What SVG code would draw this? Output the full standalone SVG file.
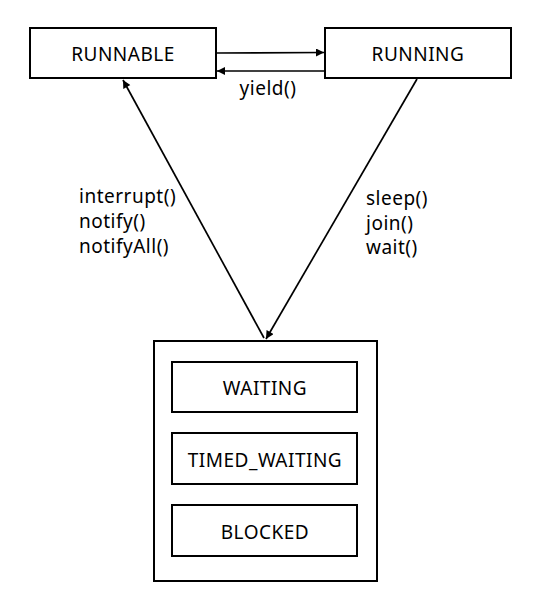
<svg xmlns="http://www.w3.org/2000/svg" width="541" height="597" viewBox="0 0 541 597">
<style>
.box{fill:#fff;stroke:#000;stroke-width:2}
.t{font-family:"Noto Sans","Open Sans",sans-serif;font-size:19px;letter-spacing:0.5px;fill:#000}
.c{text-anchor:middle}
.ln{stroke:#000;stroke-width:1.7;fill:none;marker-end:url(#ah)}
</style>
<defs>
<marker id="ah" viewBox="0 0 10 10" refX="10" refY="5" markerWidth="9" markerHeight="8" orient="auto" markerUnits="userSpaceOnUse">
<path d="M0,0L10,5L0,10z" fill="#000"/>
</marker>
</defs>
<rect width="541" height="597" fill="#fff"/>
<g id="runnable"><rect class="box" x="30" y="28" width="186" height="50"/><text class="t c" x="123" y="61">RUNNABLE</text></g>
<g id="running"><rect class="box" x="325" y="28" width="186" height="50"/><text class="t c" x="418" y="61">RUNNING</text></g>
<g id="group"><rect class="box" x="154" y="341" width="223" height="240"/></g>
<g id="waiting"><rect class="box" x="172" y="362" width="185" height="50"/><text class="t c" x="265" y="395">WAITING</text></g>
<g id="timed"><rect class="box" x="172" y="433" width="185" height="51"/><text class="t c" x="265" y="467">TIMED_WAITING</text></g>
<g id="blocked"><rect class="box" x="172" y="505" width="185" height="51"/><text class="t c" x="265" y="539">BLOCKED</text></g>
<g id="connectors">
<line class="ln" x1="217" y1="53" x2="324" y2="52.5"/>
<line class="ln" x1="325" y1="71" x2="217" y2="71"/>
<line class="ln" x1="264" y1="338" x2="123" y2="80"/>
<line class="ln" x1="417" y1="79" x2="266" y2="339"/>
<text class="t c" x="268" y="95">yield()</text>
<text class="t" x="79" y="203">interrupt()</text>
<text class="t" x="79" y="228">notify()</text>
<text class="t" x="79" y="253">notifyAll()</text>
<text class="t" x="366" y="205">sleep()</text>
<text class="t" x="366" y="230">join()</text>
<text class="t" x="366" y="254">wait()</text>
</g>
</svg>
